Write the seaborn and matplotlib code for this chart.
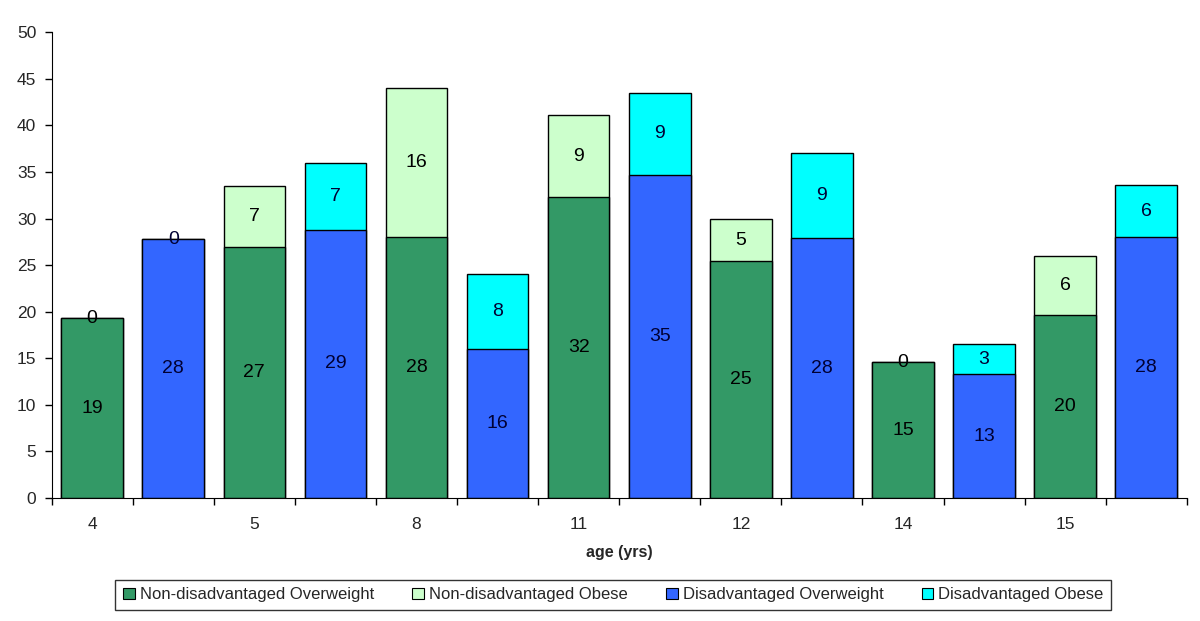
import numpy as np
import pandas as pd
import matplotlib
matplotlib.use('Agg')
import matplotlib.pyplot as plt
from matplotlib.patches import Patch
import seaborn as sns

# bar order: for each age, non-disadvantaged bar then disadvantaged bar
ages = ['4', '5', '8', '11', '12', '14', '15']
groups = ['Non-disadvantaged', 'Disadvantaged']
overweight = [19.3, 27.8, 26.9, 28.8, 28.0, 16.0, 32.3, 34.7, 25.4, 27.9, 14.6, 13.3, 19.6, 28.0]
obese = [0.0, 0.0, 6.6, 7.2, 16.0, 8.0, 8.8, 8.8, 4.6, 9.1, 0.0, 3.2, 6.4, 5.6]
series_names = ['Non-disadvantaged Overweight', 'Non-disadvantaged Obese',
                'Disadvantaged Overweight', 'Disadvantaged Obese']
colors = {'Non-disadvantaged Overweight': '#339966',
          'Non-disadvantaged Obese': '#CCFFCC',
          'Disadvantaged Overweight': '#3366FF',
          'Disadvantaged Obese': '#00FFFF'}

df = pd.DataFrame({
    'pos': np.arange(len(overweight)),
    'group': [groups[i % 2] for i in range(len(overweight))],
    'overweight': overweight,
    'obese': obese,
})
df['total'] = df['overweight'] + df['obese']

sns.set_style('white')
plt.rcParams['font.family'] = ['Liberation Sans', 'DejaVu Sans']

fig = plt.figure(figsize=(12, 6.21), dpi=100)
ax = fig.add_axes([0.043, 0.198, 0.946, 0.750])

top_colors = [colors[g + ' Obese'] for g in df['group']]
base_colors = [colors[g + ' Overweight'] for g in df['group']]

# totals first (obese colour), then overweight part drawn over the lower segment
sns.barplot(data=df, x='pos', y='total', hue='pos', palette=top_colors,
            legend=False, width=0.76, edgecolor='black', linewidth=1,
            saturation=1, ax=ax)
sns.barplot(data=df, x='pos', y='overweight', hue='pos', palette=base_colors,
            legend=False, width=0.76, edgecolor='black', linewidth=1,
            saturation=1, ax=ax)

for i, row in df.iterrows():
    txtc = '#000000' if row['group'] == groups[0] else '#000033'
    ax.text(row['pos'], row['overweight'] / 2, '%.0f' % row['overweight'],
            ha='center', va='center', fontsize=14, color=txtc)
    ax.text(row['pos'], row['overweight'] + row['obese'] / 2, '%.0f' % row['obese'],
            ha='center', va='center', fontsize=14, color=txtc)

ax.set_ylim(0, 50)
ax.set_yticks(range(0, 51, 5))
ax.set_xlim(-0.5, len(overweight) - 0.5)
ax.set_xticks(np.arange(0, len(overweight), 2))
ax.set_xticklabels(ages)
ax.set_xticks(np.arange(-0.5, len(overweight), 1), minor=True)
ax.tick_params(axis='x', which='major', length=0, pad=14, labelsize=12.5)
ax.tick_params(axis='x', which='minor', length=5, width=1, color='black', direction='out', bottom=True)
ax.tick_params(axis='y', length=5, width=1, color='black', direction='out', left=True, labelsize=12.5, pad=6)

sns.despine(ax=ax, top=True, right=True)
ax.spines['left'].set_color('black')
ax.spines['bottom'].set_color('black')
ax.set_ylabel('')
ax.set_xlabel('age (yrs)', fontsize=11.5, fontweight='bold', labelpad=9)

handles = [Patch(facecolor=colors[n], edgecolor='black', linewidth=0.8, label=n) for n in series_names]
leg = fig.legend(handles=handles, loc='center', bbox_to_anchor=(0.511, 0.042), ncol=4,
                 frameon=True, fancybox=False, edgecolor='black', fontsize=12,
                 handlelength=0.7, handleheight=0.7, handletextpad=0.3, columnspacing=2.3,
                 borderpad=0.45)
leg.get_frame().set_linewidth(1)

fig.savefig('out.png', dpi=100)
